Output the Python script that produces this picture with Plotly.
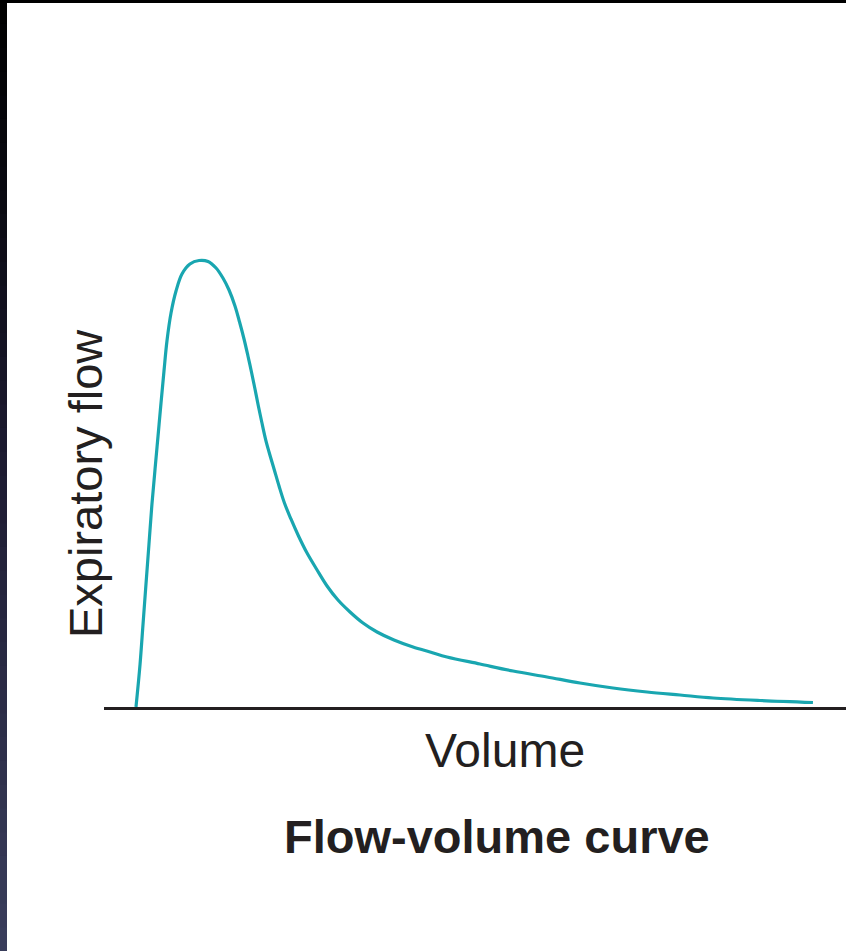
import plotly.graph_objects as go

# Flow-volume curve data (volume in L, expiratory flow in L/s)
volume = [0.0, 0.030, 0.052, 0.074, 0.096, 0.118, 0.141, 0.163, 0.185, 0.207, 0.229,
          0.259, 0.296, 0.340, 0.399, 0.466, 0.533, 0.592, 0.643, 0.688, 0.732, 0.766,
          0.799, 0.828, 0.854, 0.880, 0.905, 0.930, 0.958, 0.984, 1.021, 1.058, 1.098,
          1.146, 1.202, 1.261, 1.335, 1.413, 1.494, 1.583, 1.679, 1.783, 1.908, 2.049,
          2.175, 2.300, 2.544, 2.789, 3.040, 3.284, 3.528, 3.780, 4.024, 4.268, 4.615,
          5.007]
flow = [0.0, 0.772, 1.490, 2.209, 2.927, 3.645, 4.274, 4.866, 5.459, 6.033, 6.572,
        7.075, 7.470, 7.775, 7.955, 8.018, 8.000, 7.883, 7.703, 7.488, 7.201, 6.913,
        6.608, 6.303, 6.015, 5.710, 5.405, 5.118, 4.812, 4.579, 4.274, 3.968, 3.663,
        3.376, 3.071, 2.783, 2.478, 2.173, 1.921, 1.706, 1.508, 1.347, 1.203, 1.077,
        0.988, 0.898, 0.772, 0.646, 0.539, 0.431, 0.341, 0.269, 0.215, 0.162, 0.117,
        0.081]

x_title = "Volume"
y_title = "Expiratory flow"
caption = "Flow-volume curve"

W, H = 846, 951
L, R, T, B = 104, 0, 0, 244
PW = W - L - R
PH = H - T - B

def px_x(px):
    return (px - L) / PW

def px_y(py):
    return (H - B - py) / PH

fig = go.Figure()
fig.add_trace(go.Scatter(
    x=volume, y=flow, mode="lines",
    line=dict(color="#19a6b0", width=3.2, shape="spline", smoothing=1.0),
    hoverinfo="skip", showlegend=False,
))

text_color = "#231f20"
font_family = "Liberation Sans, Arial, sans-serif"

annotations = [
    dict(text=x_title, x=px_x(505), y=px_y(750), xref="paper", yref="paper",
         showarrow=False, xanchor="center", yanchor="middle",
         font=dict(family=font_family, size=48, color=text_color)),
    dict(text="<b>" + caption + "</b>", x=px_x(497), y=px_y(837), xref="paper", yref="paper",
         showarrow=False, xanchor="center", yanchor="middle",
         font=dict(family=font_family, size=47, color=text_color)),
    dict(text=y_title, x=px_x(85), y=px_y(484), xref="paper", yref="paper",
         showarrow=False, xanchor="center", yanchor="middle", textangle=-90,
         font=dict(family=font_family, size=47, color=text_color)),
]

# decorative dark border strips (left gradient strip and top strip)
shapes = []
stops = [(0, (0, 0, 0)), (200, (10, 10, 18)), (450, (28, 26, 48)), (951, (58, 62, 92))]
n = 40
for i in range(n):
    y0 = H * i / n
    y1 = H * (i + 1) / n
    ym = (y0 + y1) / 2
    for (a, ca), (b, cb) in zip(stops[:-1], stops[1:]):
        if a <= ym <= b:
            t = (ym - a) / (b - a)
            c = tuple(int(round(ca[k] + (cb[k] - ca[k]) * t)) for k in range(3))
            break
    shapes.append(dict(type="rect", xref="paper", yref="paper",
                       x0=px_x(0), x1=px_x(7), y0=px_y(y1 + 1.5), y1=px_y(y0),
                       fillcolor="rgb(%d,%d,%d)" % c, line=dict(width=0), layer="above"))
shapes.append(dict(type="rect", xref="paper", yref="paper",
                   x0=px_x(0), x1=px_x(W), y0=px_y(3), y1=px_y(0),
                   fillcolor="#000000", line=dict(width=0), layer="above"))

# scale: 135.2 px per litre, curve starts at px 136; 55.69 px per L/s
xmin = -(136 - L) / 135.2
xmax = xmin + PW / 135.2
ymax = PH / 55.69

fig.update_layout(
    width=W, height=H,
    margin=dict(l=L, r=R, t=T, b=B, pad=0),
    paper_bgcolor="white", plot_bgcolor="white",
    xaxis=dict(range=[xmin, xmax], showgrid=False, zeroline=False, showticklabels=False,
               ticks="", showline=True, linecolor=text_color, linewidth=3, fixedrange=True),
    yaxis=dict(range=[0, ymax], showgrid=False, zeroline=False, showticklabels=False,
               ticks="", showline=False, fixedrange=True),
    annotations=annotations,
    shapes=shapes,
)

fig.write_html("out.html", config={"displayModeBar": False},
               post_script="document.body.style.margin='0';document.body.style.padding='0';")
